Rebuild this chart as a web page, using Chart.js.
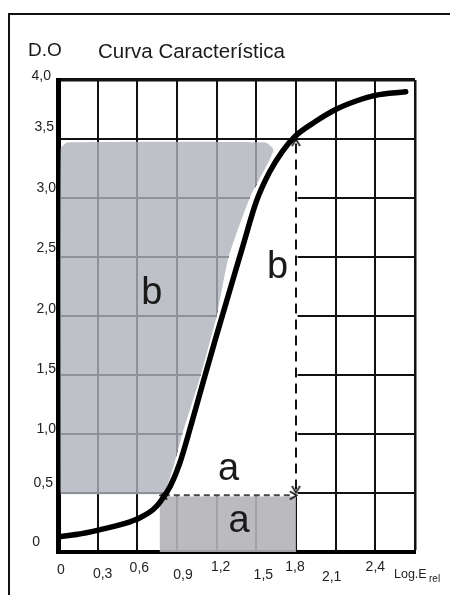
<!DOCTYPE html>
<html>
<head>
<meta charset="utf-8">
<script src="https://cdn.jsdelivr.net/npm/chart.js@4/dist/chart.umd.min.js"></script>
<style>
  html,body{margin:0;padding:0;background:#fff;}
  #wrap{position:relative;width:450px;height:595px;overflow:hidden;}
  #frame{position:absolute;left:8px;top:13px;width:460px;height:600px;border-top:2px solid #111;border-left:2px solid #111;}
  canvas{position:absolute;left:0;top:0;}
</style>
</head>
<body>
<div id="wrap"><div id="frame"></div><canvas id="c" width="450" height="595"></canvas></div>
<script>
// ---- data ----
const xTickValues = [0, 0.3, 0.6, 0.9, 1.2, 1.5, 1.8, 2.1, 2.4, 2.7];
const xTickLabels = ['0', '0,3', '0,6', '0,9', '1,2', '1,5', '1,8', '2,1', '2,4', ''];
const yTickValues = [0, 0.5, 1.0, 1.5, 2.0, 2.5, 3.0, 3.5, 4.0];
const yTickLabels = ['0', '0,5', '1,0', '1,5', '2,0', '2,5', '3,0', '3,5', '4,0'];

const curveX = [0, 0.15, 0.32, 0.5, 0.62, 0.72, 0.77, 0.85, 0.92, 1.0, 1.1, 1.2, 1.3, 1.4, 1.5, 1.6, 1.7, 1.79, 1.95, 2.1, 2.25, 2.4, 2.63];
const curveY = [0.13, 0.15, 0.19, 0.24, 0.29, 0.36, 0.42, 0.56, 0.75, 1.05, 1.45, 1.84, 2.22, 2.6, 2.97, 3.22, 3.4, 3.52, 3.65, 3.75, 3.82, 3.87, 3.9];

const shadeBX = [0.02, 0.02, 0.07, 1.57, 1.63, 1.59, 1.45, 1.29, 1.2, 1.08, 0.94, 0.88, 0.81];
const shadeBY = [0.49, 3.42, 3.47, 3.47, 3.41, 3.3, 3.0, 2.5, 2.0, 1.5, 1.0, 0.75, 0.49];

const clearX = [1.6, 1.63, 1.59, 1.45, 1.29, 1.2, 1.08, 0.94, 0.88, 0.81, 0.78, 1.812, 1.812];
const clearY = [3.48, 3.41, 3.3, 3.0, 2.5, 2.0, 1.5, 1.0, 0.75, 0.49, 0.47, 0.47, 3.48];

const shadeAX = [0.77, 0.77, 1.8, 1.8];
const shadeAY = [0.0, 0.47, 0.47, 0.0];

const dashHX = [0.8, 1.78];
const dashHY = [0.48, 0.48];
const dashVX = [1.8, 1.8];
const dashVY = [0.53, 3.47];

const noteTexts = ['b', 'b', 'a', 'a'];
const noteX = [0.71, 1.66, 1.29, 1.37];
const noteY = [2.10, 2.32, 0.61, 0.17];

// ---- style / layout ----
const FONT = '"Liberation Sans", Arial, Helvetica, sans-serif';
const xLabelDx = [3, 5, 2, 6, 4, 7, -1, -4, 0, 0];
const xLabelDy = [18, 22, 16, 23, 15, 23, 15, 25, 15, 0];
const yLabelDx = [-16, -3, 0, 0, 0, 0, 0, -2, -5];
const yLabelDy = [-10, -10, -5, -6, -7, -9, -10, -12, -4];

function pts(xs, ys){ return xs.map((x,i)=>({x:x, y:ys[i]})); }

function chevron(){
  const c = document.createElement('canvas');
  c.width = 11; c.height = 9;
  const g = c.getContext('2d');
  g.strokeStyle = '#111'; g.lineWidth = 1.6;
  g.beginPath(); g.moveTo(1.5,8); g.lineTo(5.5,1.2); g.lineTo(9.5,8); g.stroke();
  return c;
}
const arrow = chevron();

const textPlugin = {
  id: 'texts',
  afterDatasetsDraw(chart){
    const g = chart.ctx, xs = chart.scales.x, ys = chart.scales.y;
    g.save();
    g.fillStyle = '#1a1a1a';
    g.textAlign = 'center';
    g.textBaseline = 'alphabetic';
    g.font = '38px ' + FONT;
    noteTexts.forEach((t,i)=>{
      g.fillText(t, xs.getPixelForValue(noteX[i]), ys.getPixelForValue(noteY[i]));
    });
    g.restore();
  },
  afterDraw(chart){
    const g = chart.ctx, xs = chart.scales.x, ys = chart.scales.y;
    g.save();
    g.fillStyle = '#222';
    g.textBaseline = 'middle';
    g.font = '14px ' + FONT;
    g.textAlign = 'center';
    xTickValues.forEach((v,i)=>{
      if(!xTickLabels[i]) return;
      g.fillText(xTickLabels[i], xs.getPixelForValue(v) + xLabelDx[i], ys.bottom + xLabelDy[i]);
    });
    g.textAlign = 'right';
    yTickValues.forEach((v,i)=>{
      g.fillText(yTickLabels[i], xs.left - 2 + yLabelDx[i], ys.getPixelForValue(v) + yLabelDy[i]);
    });
    // axis titles
    g.textAlign = 'left';
    g.font = '12.5px ' + FONT;
    g.fillText('Log.E', 394, 575);
    g.font = '10px ' + FONT;
    g.fillText('rel', 429, 579);
    g.fillStyle = '#1a1a1a';
    g.font = '19px ' + FONT;
    g.fillText('D.O', 28, 51);
    g.font = '20.5px ' + FONT;
    g.fillText('Curva Característica', 98, 52);
    g.restore();
  }
};

new Chart(document.getElementById('c'), {
  type: 'line',
  data: {
    datasets: [
      { // curve
        data: pts(curveX, curveY),
        borderColor: '#000', borderWidth: 5.5, pointRadius: 0,
        cubicInterpolationMode: 'monotone', fill: false, order: 0,
        borderCapStyle: 'round'
      },
      { // cleared (white) region between shade b and the 1,8 line
        data: pts(clearX, clearY),
        borderWidth: 0, borderColor: 'rgba(0,0,0,0)', pointRadius: 0,
        backgroundColor: '#ffffff', fill: 'shape', tension: 0, order: 5
      },
      { // shade b
        data: pts(shadeBX, shadeBY),
        borderWidth: 0, borderColor: 'rgba(0,0,0,0)', pointRadius: 0,
        backgroundColor: 'rgba(175,178,188,0.8)', fill: 'shape', tension: 0.15, order: 4
      },
      { // shade a
        data: pts(shadeAX, shadeAY),
        borderWidth: 0, borderColor: 'rgba(0,0,0,0)', pointRadius: 0,
        backgroundColor: 'rgba(178,178,184,0.9)', fill: 'shape', tension: 0, order: 3
      },
      { // horizontal dashed
        data: pts(dashHX, dashHY),
        borderColor: '#444', borderWidth: 2, borderDash: [6, 4], fill: false,
        pointStyle: arrow, pointRotation: [270, 90], pointRadius: 5, order: 1
      },
      { // vertical dashed
        data: pts(dashVX, dashVY),
        borderColor: '#111', borderWidth: 2, borderDash: [10, 6], fill: false,
        pointStyle: arrow, pointRotation: [180, 0], pointRadius: 5, order: 1
      }
    ]
  },
  options: {
    responsive: false,
    animation: false,
    layout: { padding: { left: 58, right: 35, top: 80, bottom: 43 } },
    plugins: { legend: { display: false }, tooltip: { enabled: false }, title: { display: false } },
    scales: {
      x: {
        type: 'linear', min: 0, max: 2.7,
        afterBuildTicks: s => { s.ticks = xTickValues.map(v => ({value: v})); },
        ticks: { display: false },
        grid: {
          color: '#111', drawTicks: false,
          lineWidth: c => (c.tick && c.tick.value === 2.7) ? 2.5 : 2
        },
        border: { display: true, color: '#000', width: 4 }
      },
      y: {
        type: 'linear', min: 0, max: 4,
        afterBuildTicks: s => { s.ticks = yTickValues.map(v => ({value: v})); },
        ticks: { display: false },
        grid: {
          color: '#111', drawTicks: false,
          lineWidth: c => (c.tick && c.tick.value === 4) ? 3.5 : 2
        },
        border: { display: true, color: '#000', width: 5 }
      }
    }
  },
  plugins: [textPlugin]
});
</script>
</body>
</html>
